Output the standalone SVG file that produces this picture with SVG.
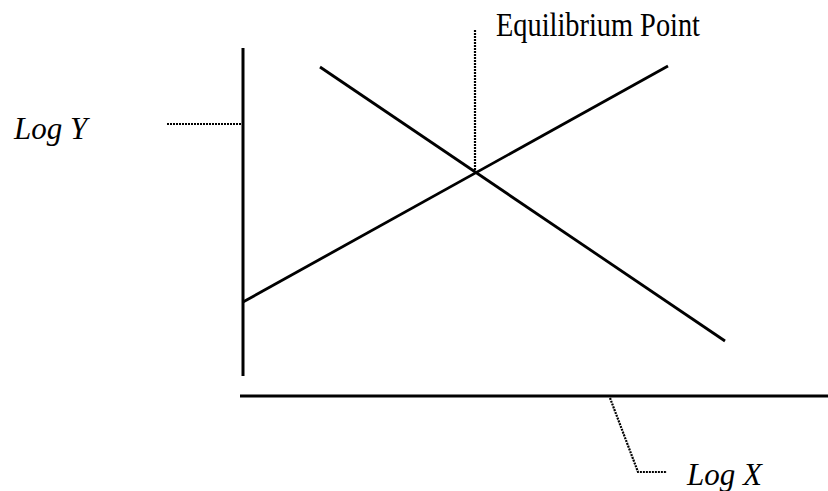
<svg xmlns="http://www.w3.org/2000/svg" width="828" height="491" viewBox="0 0 828 491">
<style>
.axis{stroke:#000;stroke-width:3;fill:none}
.curve{stroke:#000;stroke-width:2.8;fill:none}
.dot{stroke:#000;stroke-width:2.2;stroke-dasharray:2 1;fill:none}
.lbl{font-family:"Liberation Serif","Times New Roman",serif;fill:#000}
.it{font-style:italic}
</style>
<rect width="828" height="491" fill="#fff"/>
<g id="axes">
<line class="axis" x1="243" y1="48" x2="243" y2="376"/>
<line class="axis" x1="240" y1="396" x2="828" y2="396"/>
</g>
<g id="curves">
<line class="curve" x1="243" y1="302" x2="668" y2="66"/>
<line class="curve" x1="320" y1="67" x2="725" y2="341"/>
</g>
<g id="connectors">
<polyline class="dot" points="167,124 241,124"/>
<polyline class="dot" points="475,30 475,170"/>
<polyline class="dot" points="610,398 638,472 667,472"/>
</g>
<g id="label-logy"><text class="lbl it" x="14" y="139" font-size="31">Log Y</text></g>
<g id="label-eq"><text class="lbl" x="496" y="36" font-size="33" textLength="204" lengthAdjust="spacingAndGlyphs">Equilibrium Point</text></g>
<g id="label-logx"><text class="lbl it" x="687" y="485" font-size="31">Log X</text></g>
</svg>
